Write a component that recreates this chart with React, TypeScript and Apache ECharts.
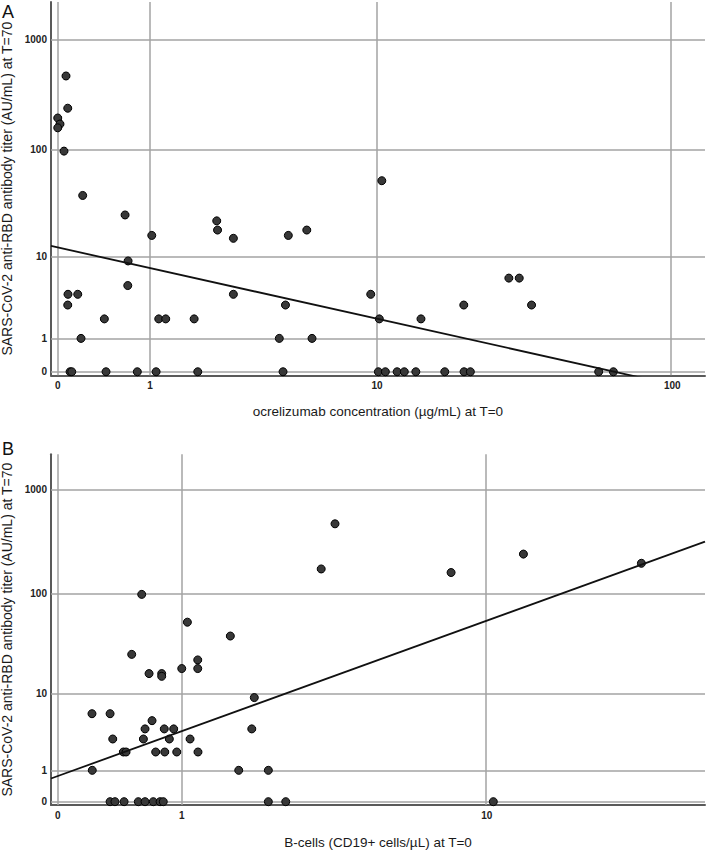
import React, { useEffect, useRef } from "react";
import * as echarts from "echarts";

// Panel A: ocrelizumab concentration (µg/mL) vs anti-RBD titer (AU/mL)
const concA = [0.064, 0.078, 0, 0.017, 0, 0.048, 0.206, 0.658, 1.026, 2.3, 2.32, 2.74, 0.696, 0.692, 0.08, 0.162, 0.078, 0.419, 1.135, 1.25, 1.785, 2.74, 0.191, 0.097, 0.111, 0.437, 0.818, 1.093, 1.862, 10.4, 4.65, 5.49, 4.53, 4.28, 5.75, 9.49, 10.19, 14.3, 20.1, 4.43, 10.11, 10.71, 11.79, 12.5, 13.72, 17.29, 20.14, 21.17, 28.6, 31.0, 34.1, 57.1, 63.9];
const titerA = [466, 238, 194, 171, 158, 97, 38, 25, 16, 22, 18, 15, 9, 5, 4, 4, 3, 2, 2, 2, 2, 4, 1, 0, 0, 0, 0, 0, 0, 52, 16, 18, 3, 1, 1, 4, 2, 2, 3, 0, 0, 0, 0, 0, 0, 0, 0, 0, 6, 6, 3, 0, 0];

// Panel B: B-cells (CD19+ cells/µL) vs anti-RBD titer (AU/mL)
const bcellsB = [0.599, 1.064, 1.624, 0.512, 1.187, 1.187, 1.0, 0.666, 0.788, 0.788, 0.211, 0.34, 0.694, 0.629, 0.814, 0.912, 0.36, 0.614, 0.866, 1.095, 0.443, 0.465, 0.729, 0.819, 0.945, 1.19, 0.213, 1.75, 0.34, 0.377, 0.449, 0.569, 0.629, 0.706, 0.772, 0.804, 2.0, 1.958, 2.245, 2.245, 2.576, 3.71, 3.36, 8.01, 12.5, 25.1, 10.41];
const titerB = [97, 52, 38, 25, 22, 18, 18, 16, 16, 15, 6, 6, 5, 4, 4, 4, 3, 3, 3, 3, 2, 2, 2, 2, 2, 2, 1, 1, 0, 0, 0, 0, 0, 0, 0, 0, 9, 4, 1, 0, 0, 466, 171, 158, 238, 194, 0];

// Tick values (original units)
const xTicksA = [0, 1, 10, 100];
const xTicksB = [0, 1, 10];
const yTicks = [0, 1, 10, 100, 1000];

// Fit lines in log10(v+1) space: y = intercept + slope * x
const fitA = { intercept: 1.122, slope: -0.618 };
const fitB = { intercept: 0.2457, slope: 1.4337 };

const titleX_A = "ocrelizumab concentration (µg/mL) at T=0";
const titleX_B = "B-cells (CD19+ cells/µL) at T=0";
const titleY = "SARS-CoV-2 anti-RBD antibody titer (AU/mL) at T=70";

const tf = (v: number) => Math.log10(v + 1);

export default function App() {
  const ref = useRef<HTMLDivElement>(null);
  useEffect(() => {
    document.body.style.margin = "0";
    if (!ref.current) return;
    const chart = echarts.init(ref.current, null, { renderer: "svg" });
    const font = "'Liberation Sans', Arial, Helvetica, sans-serif";
    const xRangeA = [-0.022, 2.111];
    const xRangeB = [-0.0163, 1.571];
    const yRange = [-0.032, 3.337];
    const fmt = (v: number) => String(Math.round(Math.pow(10, v) - 1));
    const gridColor = "#a3a3a3";
    const axisColor = "#5a5a5a";

    const xAxisBase = (idx: number, range: number[], ticks: number[], name: string, gap: number) => ({
      type: "value",
      gridIndex: idx,
      min: range[0],
      max: range[1],
      name,
      nameLocation: "middle",
      nameGap: gap,
      nameTextStyle: { fontFamily: font, fontSize: 13.5, color: "#1a1a1a" },
      axisLine: { show: true, onZero: false, lineStyle: { color: axisColor, width: 2 } },
      axisTick: { show: false },
      splitLine: { show: false },
      axisLabel: {
        customValues: ticks.map(tf),
        formatter: fmt,
        fontFamily: font,
        fontSize: 10,
        fontWeight: "bold",
        color: "#222",
        margin: 5,
      },
    });
    const yAxisBase = (idx: number) => ({
      type: "value",
      gridIndex: idx,
      min: yRange[0],
      max: yRange[1],
      name: titleY,
      nameLocation: "middle",
      nameGap: 36,
      nameRotate: 90,
      nameTextStyle: { fontFamily: font, fontSize: 14, color: "#1a1a1a" },
      axisLine: { show: true, onZero: false, lineStyle: { color: axisColor, width: 2 } },
      axisTick: { show: false },
      splitLine: { show: false },
      axisLabel: {
        customValues: yTicks.map(tf),
        formatter: fmt,
        fontFamily: font,
        fontSize: 10,
        fontWeight: "bold",
        color: "#222",
        margin: 4,
      },
    });

    const gridLines = (idx: number, xt: number[]) => ({
      type: "scatter",
      xAxisIndex: idx,
      yAxisIndex: idx,
      data: [],
      silent: true,
      z: 1,
      markLine: {
        silent: true,
        z: 1,
        symbol: ["none", "none"],
        label: { show: false },
        lineStyle: { color: gridColor, width: 1.5, type: "solid" },
        emphasis: { disabled: true },
        data: [
          ...xt.map((v) => ({ xAxis: tf(v) })),
          ...yTicks.map((v) => ({ yAxis: tf(v) })),
        ],
      },
    });

    const scatter = (idx: number, xs: number[], ys: number[]) => ({
      type: "scatter",
      xAxisIndex: idx,
      yAxisIndex: idx,
      z: 3,
      symbolSize: 8,
      itemStyle: { color: "#383838", borderColor: "#000", borderWidth: 1, opacity: 1 },
      data: xs.map((x, i) => [tf(x), tf(ys[i])]),
    });

    const fit = (idx: number, range: number[], f: { intercept: number; slope: number }) => ({
      type: "line",
      xAxisIndex: idx,
      yAxisIndex: idx,
      z: 4,
      clip: true,
      symbol: "none",
      silent: true,
      lineStyle: { color: "#111", width: 1.8 },
      data: range.map((x) => [x, f.intercept + f.slope * x]),
    });

    chart.setOption({
      animation: false,
      backgroundColor: "#fff",
      textStyle: { fontFamily: font },
      grid: [
        { left: 51, top: 2, width: 654, height: 373.3, outerBoundsMode: "none", containLabel: false },
        { left: 51, top: 454.3, width: 654, height: 350.7, outerBoundsMode: "none", containLabel: false },
      ],
      xAxis: [
        xAxisBase(0, xRangeA, xTicksA, titleX_A, 29),
        xAxisBase(1, xRangeB, xTicksB, titleX_B, 30),
      ],
      yAxis: [yAxisBase(0), yAxisBase(1)],
      graphic: [
        { type: "text", left: 2, top: 3, style: { text: "A", fontFamily: font, fontSize: 18, fill: "#111" } },
        { type: "text", left: 2, top: 440, style: { text: "B", fontFamily: font, fontSize: 18, fill: "#111" } },
      ],
      series: [
        gridLines(0, xTicksA),
        gridLines(1, xTicksB),
        scatter(0, concA, titerA),
        scatter(1, bcellsB, titerB),
        fit(0, xRangeA, fitA),
        fit(1, xRangeB, fitB),
      ],
    });
    return () => chart.dispose();
  }, []);
  return <div ref={ref} style={{ position: "absolute", left: 0, top: 0, width: 709, height: 851 }} />;
}
